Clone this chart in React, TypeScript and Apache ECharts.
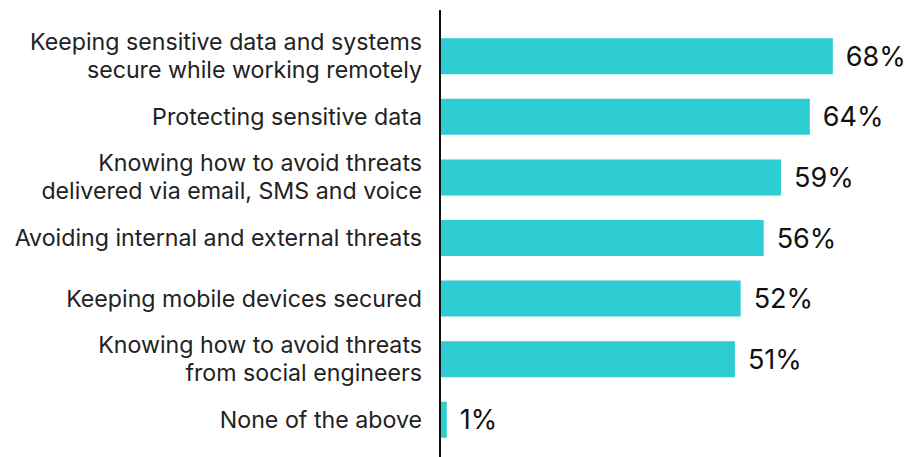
import React, { useEffect, useRef } from "react";
import * as echarts from "echarts";

const categories = [
  "Keeping sensitive data and systems\nsecure while working remotely",
  "Protecting sensitive data",
  "Knowing how to avoid threats\ndelivered via email, SMS and voice",
  "Avoiding internal and external threats",
  "Keeping mobile devices secured",
  "Knowing how to avoid threats\nfrom social engineers",
  "None of the above",
];
const values = [68, 64, 59, 56, 52, 51, 1];

export default function App() {
  const ref = useRef<HTMLDivElement>(null);
  useEffect(() => {
    const chart = echarts.init(ref.current!, null, { renderer: "svg" });
    chart.setOption({
      animation: false,
      grid: { left: 441, right: 3, top: 26, bottom: 7, containLabel: false },
      xAxis: {
        type: "value",
        min: 0,
        max: 80,
        show: false,
      },
      yAxis: {
        type: "category",
        data: categories,
        inverse: true,
        axisLine: { show: false },
        axisTick: { show: false },
        axisLabel: {
          fontFamily: "Inter",
          fontSize: 23.2,
          color: "#222",
          lineHeight: 28,
          align: "right",
          margin: 19,
        },
      },
      graphic: [
        {
          type: "line",
          shape: { x1: 440, y1: 10, x2: 440, y2: 457 },
          style: { stroke: "#111", lineWidth: 2 },
        },
      ],
      series: [
        {
          type: "bar",
          data: values,
          barWidth: 36,
          itemStyle: { color: "#2ECDD3" },
          label: {
            show: true,
            position: "right",
            distance: 13,
            formatter: "{c}%",
            fontFamily: "Inter",
            fontSize: 27,
            color: "#111",
          },
        },
      ],
    });
    return () => chart.dispose();
  }, []);
  return <div ref={ref} style={{ width: 905, height: 457, position: "absolute", left: 0, top: 0 }} />;
}
